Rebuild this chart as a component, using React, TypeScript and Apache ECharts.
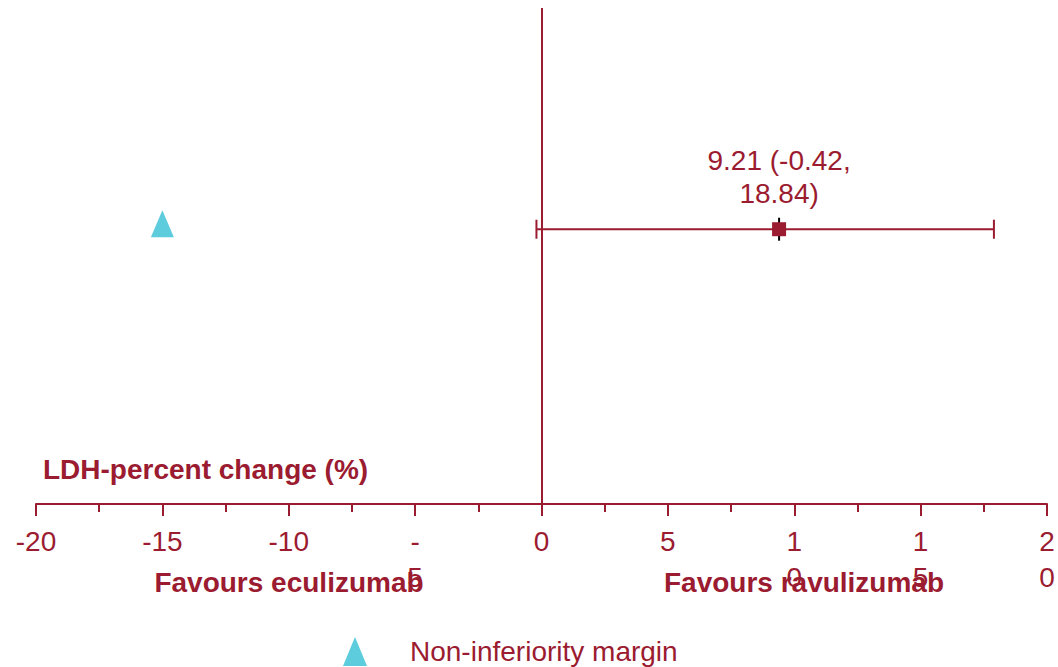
import React, { useEffect, useRef } from "react";
import * as echarts from "echarts";

const RED = "#9B1B30";
const CYAN = "#5DCCDD";
const FONT = "Arial, 'Liberation Sans', sans-serif";

const xTickValues = [-20, -15, -10, -5, 0, 5, 10, 15, 20];
const xTickLabels = ["-20", "-15", "-10", "-\n5", "0", "5", "1\n0", "1\n5", "2\n0"];

const estimate = [9.4];
const ciLower = [-0.2];
const ciUpper = [17.9];
const rowY = [0.554];
const estimateLabel = ["9.21 (-0.42,\n18.84)"];

const marginX = [-15];
const marginY = [0.565];
const marginName = "Non-inferiority margin";

const titleText = "LDH-percent change (%)";
const favoursLeft = "Favours eculizumab";
const favoursRight = "Favours ravulizumab";

export default function App() {
  const ref = useRef<HTMLDivElement>(null);
  useEffect(() => {
    if (!ref.current) return;
    const chart = echarts.init(ref.current, undefined, { renderer: "svg" });
    const option: any = {
      animation: false,
      backgroundColor: "#ffffff",
      textStyle: { fontFamily: FONT },
      title: {
        text: titleText,
        left: 43,
        top: 455,
        padding: 0,
        textStyle: { fontSize: 28, fontWeight: "bold", color: RED, fontFamily: FONT },
      },
      legend: {
        data: [marginName],
        left: 343,
        top: 637,
        padding: 0,
        itemWidth: 24,
        itemHeight: 29,
        selectedMode: false,
        textStyle: { fontSize: 28, color: RED, fontFamily: FONT, padding: [0, 0, 0, 38] },
      },
      grid: { left: 36, right: 11, top: 8, bottom: 163, containLabel: false },
      xAxis: {
        type: "value",
        min: -20,
        max: 20,
        interval: 5,
        splitLine: { show: false },
        axisLine: { onZero: false, lineStyle: { color: RED, width: 2 } },
        axisTick: { length: 12, lineStyle: { color: RED, width: 2 } },
        minorTick: { show: true, splitNumber: 2, length: 8, lineStyle: { color: RED, width: 2 } },
        minorSplitLine: { show: false },
        axisLabel: {
          formatter: (v: number) => {
            const i = xTickValues.indexOf(v);
            return i >= 0 ? xTickLabels[i] : String(v);
          },
          fontSize: 28,
          lineHeight: 36,
          color: RED,
          margin: 19,
          fontFamily: FONT,
          showMinLabel: true,
          showMaxLabel: true,
        },
      },
      yAxis: { type: "value", min: 0, max: 1, show: false },
      graphic: [
        {
          type: "text",
          x: 289,
          y: 582,
          style: {
            text: favoursLeft,
            fill: RED,
            fontSize: 28,
            fontWeight: "bold",
            fontFamily: FONT,
            align: "center",
            verticalAlign: "middle",
          },
        },
        {
          type: "text",
          x: 804,
          y: 582,
          style: {
            text: favoursRight,
            fill: RED,
            fontSize: 28,
            fontWeight: "bold",
            fontFamily: FONT,
            align: "center",
            verticalAlign: "middle",
          },
        },
      ],
      series: [
        {
          type: "custom",
          name: "CI",
          z: 2,
          data: ciLower.map((lo, i) => [lo, ciUpper[i], estimate[i], rowY[i]]),
          encode: { x: [0, 1, 2], y: 3 },
          renderItem: (_params: any, api: any) => {
            const lo = api.coord([api.value(0), api.value(3)]);
            const hi = api.coord([api.value(1), api.value(3)]);
            const mid = api.coord([api.value(2), api.value(3)]);
            const cap = 9.5;
            return {
              type: "group",
              children: [
                { type: "line", shape: { x1: lo[0], y1: lo[1], x2: hi[0], y2: hi[1] }, style: { stroke: RED, lineWidth: 2 } },
                { type: "line", shape: { x1: lo[0], y1: lo[1] - cap, x2: lo[0], y2: lo[1] + cap }, style: { stroke: RED, lineWidth: 2 } },
                { type: "line", shape: { x1: hi[0], y1: hi[1] - cap, x2: hi[0], y2: hi[1] + cap }, style: { stroke: RED, lineWidth: 2 } },
                { type: "line", shape: { x1: mid[0], y1: mid[1] - 11.5, x2: mid[0], y2: mid[1] + 11.5 }, style: { stroke: "#000000", lineWidth: 2 } },
              ],
            };
          },
        },
        {
          type: "scatter",
          name: "Estimate",
          z: 3,
          symbol: "rect",
          symbolSize: 14,
          itemStyle: { color: RED, opacity: 1 },
          data: estimate.map((v, i) => [v, rowY[i]]),
          label: {
            show: true,
            position: "top",
            distance: 12,
            formatter: (p: any) => estimateLabel[p.dataIndex],
            fontSize: 28,
            lineHeight: 33,
            color: RED,
            opacity: 1,
            fontFamily: FONT,
            align: "center",
          },
          markLine: {
            silent: true,
            symbol: ["none", "none"],
            label: { show: false },
            lineStyle: { color: RED, width: 2, type: "solid", opacity: 1 },
            data: [{ xAxis: 0 }],
          },
        },
        {
          type: "scatter",
          name: marginName,
          z: 3,
          symbol: "triangle",
          symbolSize: [23, 27],
          itemStyle: { color: CYAN, opacity: 1 },
          data: marginX.map((v, i) => [v, marginY[i]]),
        },
      ],
    };
    chart.setOption(option);
    return () => chart.dispose();
  }, []);
  return (
    <div
      ref={ref}
      style={{ position: "fixed", left: 0, top: 0, width: 1058, height: 667, background: "#fff" }}
    />
  );
}
